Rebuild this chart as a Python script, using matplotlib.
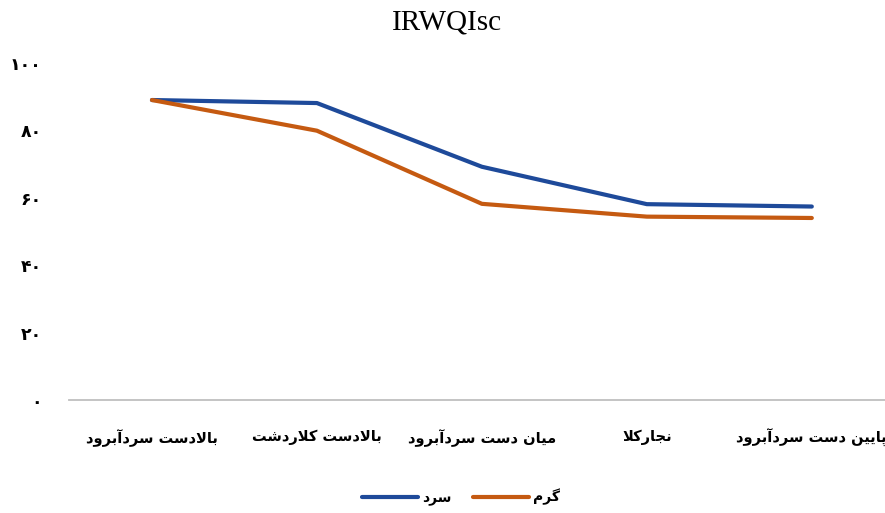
import matplotlib
matplotlib.use('Agg')
import matplotlib.pyplot as plt

plt.rcParams['font.family'] = ['DejaVu Sans']

# داده‌ها
stations = ['بالادست سردآبرود', 'بالادست کلاردشت', 'میان دست سردآبرود', 'نجارکلا', 'پایین دست سردآبرود']
cold = [89.0, 88.1, 69.2, 58.1, 57.4]
warm = [89.0, 79.9, 58.2, 54.4, 54.0]
series_names = ['سرد', 'گرم']
yticks = [0, 20, 40, 60, 80, 100]

# شکل‌دهی ساده حروف فارسی (matplotlib خودش اتصال حروف را انجام نمی‌دهد)
FORMS = {
    'ا': ('\uFE8D', '\uFE8E'), 'آ': ('\uFE81', '\uFE82'),
    'د': ('\uFEA9', '\uFEAA'), 'ر': ('\uFEAD', '\uFEAE'),
    'و': ('\uFEED', '\uFEEE'), 'LA': ('\uFEFB', '\uFEFC'),
    'ب': ('\uFE8F', '\uFE90', '\uFE91', '\uFE92'),
    'پ': ('\uFB56', '\uFB57', '\uFB58', '\uFB59'),
    'ت': ('\uFE95', '\uFE96', '\uFE97', '\uFE98'),
    'ج': ('\uFE9D', '\uFE9E', '\uFE9F', '\uFEA0'),
    'س': ('\uFEB1', '\uFEB2', '\uFEB3', '\uFEB4'),
    'ش': ('\uFEB5', '\uFEB6', '\uFEB7', '\uFEB8'),
    'ک': ('\uFB8E', '\uFB8F', '\uFB90', '\uFB91'),
    'گ': ('\uFB92', '\uFB93', '\uFB94', '\uFB95'),
    'ل': ('\uFEDD', '\uFEDE', '\uFEDF', '\uFEE0'),
    'م': ('\uFEE1', '\uFEE2', '\uFEE3', '\uFEE4'),
    'ن': ('\uFEE5', '\uFEE6', '\uFEE7', '\uFEE8'),
    'ی': ('\uFBFC', '\uFBFD', '\uFBFE', '\uFBFF'),
}


def fa(text):
    toks = []
    i = 0
    while i < len(text):
        if text[i] == 'ل' and i + 1 < len(text) and text[i + 1] == 'ا':
            toks.append('LA')
            i += 2
        else:
            toks.append(text[i])
            i += 1
    out = []
    for k, t in enumerate(toks):
        if t not in FORMS:
            out.append(t)
            continue
        f = FORMS[t]
        prev = toks[k - 1] if k > 0 else None
        nxt = toks[k + 1] if k + 1 < len(toks) else None
        join_prev = prev in FORMS and len(FORMS[prev]) == 4
        join_next = len(f) == 4 and nxt in FORMS
        if join_prev and join_next:
            out.append(f[3])
        elif join_prev:
            out.append(f[1])
        elif join_next:
            out.append(f[2])
        else:
            out.append(f[0])
    return ''.join(reversed(out))


def fa_digits(n):
    return str(n).translate(str.maketrans('0123456789', '۰۱۲۳۴۵۶۷۸۹'))


fig = plt.figure(figsize=(8.85, 5.13), dpi=100)
ax = fig.add_axes([0.0785, 0.2203, 0.932, 0.657])

x = list(range(len(stations)))
ax.plot(x, cold, color='#1E4A9A', lw=3.0, solid_capstyle='round',
        solid_joinstyle='round', label=fa(series_names[0]), zorder=3)
ax.plot(x, warm, color='#C55A11', lw=3.0, solid_capstyle='round',
        solid_joinstyle='round', label=fa(series_names[1]), zorder=3)

ax.set_xlim(-0.5, len(stations) - 0.5)
ax.set_ylim(0, 100)
ax.set_yticks(yticks)
ax.set_yticklabels([fa_digits(v) for v in yticks], fontsize=12.5, fontweight='bold')
ax.set_xticks(x)
ax.set_xticklabels([fa(s) for s in stations], fontsize=10.5, fontweight='bold')
ax.tick_params(axis='both', length=0)
ax.tick_params(axis='x', pad=21)
ax.tick_params(axis='y', pad=20)

for s in ['top', 'right', 'left']:
    ax.spines[s].set_visible(False)
ax.spines['bottom'].set_color('#BFBFBF')
ax.spines['bottom'].set_linewidth(1.3)

fig.text(0.505, 1 - 22 / 513, 'IRWQIsc', family='Liberation Serif',
         fontsize=21, ha='center', va='center')

fig.legend(loc='center', bbox_to_anchor=(0.521, 0.031), ncol=2, frameon=False,
           handlelength=4.0, handletextpad=0.3, columnspacing=1.6,
           prop={'weight': 'bold', 'size': 10})

fig.savefig('out.png', dpi=100)
